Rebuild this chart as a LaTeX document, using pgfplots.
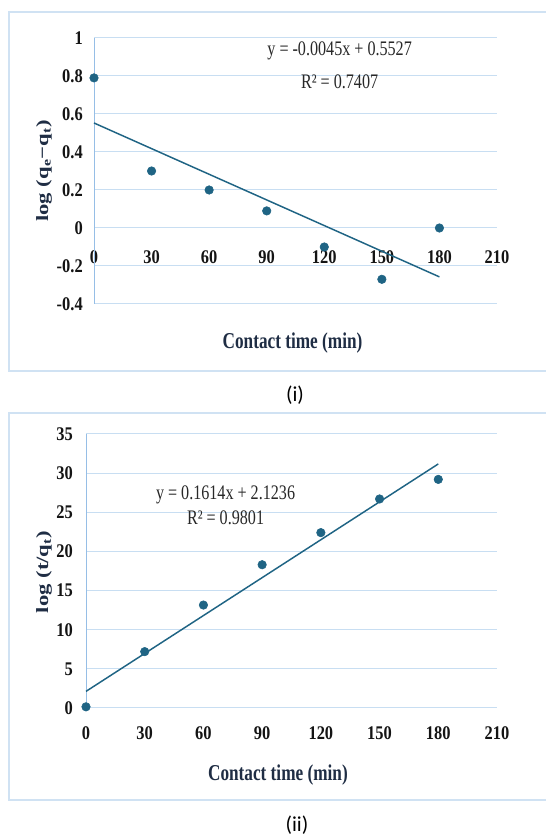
\documentclass[border=0pt]{standalone}
\usepackage{fontspec}
\setmainfont{Liberation Serif}
\newfontfamily\capfont{Carlito}
\usepackage{graphicx}
\usepackage{pgfplots}
\pgfplotsset{compat=1.18}
\definecolor{mk}{RGB}{31,100,132}
\definecolor{gridc}{RGB}{200,222,242}
\definecolor{axc}{RGB}{150,190,230}
\definecolor{boxc}{RGB}{208,226,243}
\definecolor{lab}{RGB}{31,45,68}
\definecolor{tk}{RGB}{20,20,20}
\definecolor{txt}{RGB}{40,40,40}
\newcommand\tks[1]{\scalebox{0.85}[1]{#1}}
\newcommand\lbs[1]{\scalebox{0.76}[1]{#1}}
\newcommand\vls[1]{\scalebox{1}[0.76]{#1}}
\newcommand\trs[1]{\scalebox{0.78}[1]{#1}}
\pgfplotsset{mystyle/.style={
  scale only axis, clip=false,
  axis x line=middle, axis y line=left, axis line style={draw=none},
  hide obscured x ticks=false, hide obscured y ticks=false,
  major tick length=0pt,
  ymajorgrids, grid style={gridc, line width=0.75pt},
  xmin=0, xmax=210, xtick={0,30,60,90,120,150,180,210},
  xticklabels={\tks{0},\tks{30},\tks{60},\tks{90},\tks{120},\tks{150},\tks{180},\tks{210}},
  tick label style={font=\fontsize{14.5}{16}\selectfont\bfseries, text=tk},
  xticklabel style={anchor=center},
  yticklabel style={anchor=east, inner sep=0pt},
}}
\begin{document}
\begin{tikzpicture}
\useasboundingbox (0,0) rectangle (409.5pt,627pt);
\fill[white] (0,0) rectangle (409.5pt,627pt);
\draw[boxc, line width=1pt] (6.75pt,348.75pt) rectangle (415pt,618pt);
\draw[boxc, line width=1pt] (6.75pt,27pt) rectangle (415pt,317.25pt);
\node[font=\capfont\fontsize{16}{18}\selectfont] at (221.25pt,330.75pt) {(i)};
\node[font=\capfont\fontsize{16}{18}\selectfont] at (222.75pt,8.25pt) {(ii)};

% ---------- (i)
\begin{axis}[mystyle,
  at={(70.5pt,399pt)}, anchor=south west,
  width=302.25pt, height=199.5pt,
  ymin=-0.4, ymax=1, ytick={-0.4,-0.2,0,0.2,0.4,0.6,0.8,1},
  yticklabels={\tks{-0.4},\tks{-0.2},\tks{0},\tks{0.2},\tks{0.4},\tks{0.6},\tks{0.8},\tks{1}},
  xticklabel style={yshift=-21.75pt},
  yticklabel style={xshift=-8.25pt},
]
\draw[axc, line width=0.75pt] (axis cs:0,-0.4) -- (axis cs:0,1);
\addplot[mk, line width=1.1pt, no marks] coordinates {(0,0.5527) (180,-0.2573)};
\addplot[only marks, mark=*, mark size=3.2pt, mk] coordinates {
(0,0.79) (30,0.30) (60,0.20) (90,0.09) (120,-0.10) (150,-0.27) (180,0.0)};
\node[font=\fontsize{15.5}{17}\selectfont, text=txt] at (axis cs:128,0.93) {\trs{y = -0.0045x + 0.5527}};
\node[font=\fontsize{15.5}{17}\selectfont, text=txt] at (axis cs:128,0.768) {\trs{R² = 0.7407}};
\node[font=\fontsize{17}{19}\selectfont\bfseries, text=lab] at (axis description cs:0.4926,-0.1466) {\lbs{Contact time (min)}};
\node[font=\fontsize{17}{19}\selectfont\bfseries, text=lab, rotate=90] at (axis description cs:-0.124,0.5) {\vls{log (q\textsubscript{e}−q\textsubscript{t})}};
\end{axis}

% ---------- (ii)
\begin{axis}[mystyle,
  at={(64.5pt,96pt)}, anchor=south west,
  width=308.25pt, height=205.5pt,
  ymin=0, ymax=35, ytick={0,5,10,15,20,25,30,35},
  yticklabels={\tks{0},\tks{5},\tks{10},\tks{15},\tks{20},\tks{25},\tks{30},\tks{35}},
  xticklabel style={yshift=-18.75pt},
  yticklabel style={xshift=-9.75pt},
]
\draw[axc, line width=0.75pt] (axis cs:0,0) -- (axis cs:0,35);
\addplot[mk, line width=1.1pt, no marks] coordinates {(0,2.1236) (180,31.1756)};
\addplot[only marks, mark=*, mark size=3.2pt, mk] coordinates {
(0,0.15) (30,7.2) (60,13.15) (90,18.3) (120,22.4) (150,26.7) (180,29.2)};
\node[font=\fontsize{15.5}{17}\selectfont, text=txt] at (axis cs:71.3,27.2) {\trs{y = 0.1614x + 2.1236}};
\node[font=\fontsize{15.5}{17}\selectfont, text=txt] at (axis cs:71.3,24.27) {\trs{R² = 0.9801}};
\node[font=\fontsize{17}{19}\selectfont\bfseries, text=lab] at (axis description cs:0.467,-0.2445) {\lbs{Contact time (min)}};
\node[font=\fontsize{17}{19}\selectfont\bfseries, text=lab, rotate=90] at (axis description cs:-0.102,0.496) {\vls{log (t/q\textsubscript{t})}};
\end{axis}
\end{tikzpicture}
\end{document}
